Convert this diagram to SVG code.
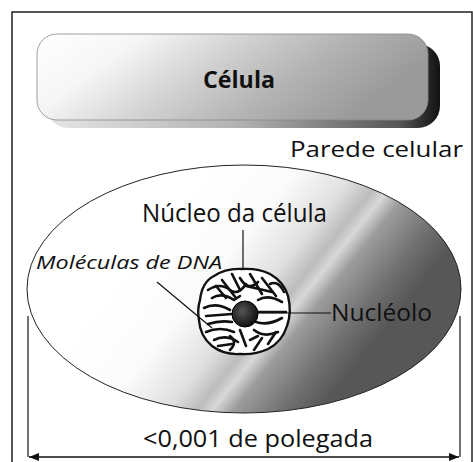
<svg xmlns="http://www.w3.org/2000/svg" width="473" height="462" viewBox="0 0 473 462">
  <defs>
    <linearGradient id="cellFill" gradientUnits="userSpaceOnUse" x1="180" y1="200" x2="368" y2="350">
      <stop offset="0" stop-color="#ffffff"/>
      <stop offset="0.3" stop-color="#fbfbfb"/>
      <stop offset="0.5" stop-color="#e0e0e0"/>
      <stop offset="0.6" stop-color="#bcbcbc"/>
      <stop offset="0.65" stop-color="#d8d8d8"/>
      <stop offset="0.72" stop-color="#9c9c9c"/>
      <stop offset="0.88" stop-color="#707070"/>
      <stop offset="1" stop-color="#575757"/>
    </linearGradient>
    <linearGradient id="titleFill" x1="0" y1="0" x2="1" y2="0.3">
      <stop offset="0" stop-color="#ffffff"/>
      <stop offset="0.25" stop-color="#f6f6f6"/>
      <stop offset="0.5" stop-color="#d2d2d2"/>
      <stop offset="0.75" stop-color="#b2b2b2"/>
      <stop offset="1" stop-color="#9a9a9a"/>
    </linearGradient>
    <linearGradient id="shadowFill" x1="0" y1="0" x2="1" y2="0">
      <stop offset="0" stop-color="#e6e6e6"/>
      <stop offset="0.5" stop-color="#b0b0b0"/>
      <stop offset="0.9" stop-color="#555"/>
      <stop offset="1" stop-color="#111"/>
    </linearGradient>
    <radialGradient id="nucleolusFill" cx="0.4" cy="0.4" r="0.6">
      <stop offset="0" stop-color="#555"/>
      <stop offset="1" stop-color="#111"/>
    </radialGradient>
    <marker id="arrow" viewBox="0 0 10 10" refX="10" refY="5" markerWidth="10" markerHeight="10" orient="auto-start-reverse" markerUnits="userSpaceOnUse">
      <path d="M0,1 L10,5 L0,9 Z" fill="#111"/>
    </marker>
    <style>
      .txt { font-family: "Open Sans", "Lato", "Liberation Sans", sans-serif; fill: #111; }
      .lead { stroke: #111; stroke-width: 1.2; fill: none; }
      .dna { stroke: #111; stroke-width: 2.6; fill: none; stroke-linecap: round; stroke-linejoin: round; }
    </style>
  </defs>

  <!-- page frame -->
  <rect x="0" y="0" width="473" height="462" fill="#fff"/>
  <path d="M12,462 V12 H472 V462" fill="none" stroke="#222" stroke-width="1.5"/>

  <!-- title banner -->
  <g id="title">
    <rect x="46" y="44" width="394" height="84" rx="22" fill="url(#shadowFill)"/>
    <rect x="37" y="34" width="391" height="86" rx="20" fill="url(#titleFill)" stroke="#888" stroke-width="0.8"/>
    <text class="txt" x="239" y="88" font-size="23" font-weight="bold" text-anchor="middle" textLength="72" lengthAdjust="spacingAndGlyphs">Célula</text>
  </g>

  <!-- cell wall label -->
  <g id="cell-wall-label">
    <text class="txt" x="290" y="157" font-size="22" textLength="173" lengthAdjust="spacingAndGlyphs">Parede celular</text>
  </g>

  <!-- cell body -->
  <g id="cell">
    <ellipse cx="244" cy="289" rx="217" ry="124" fill="url(#cellFill)" stroke="#222" stroke-width="1"/>
  </g>

  <!-- nucleus with DNA strands and nucleolus -->
  <g id="nucleus">
    <path d="M200,300 Q202,282 214,276 Q226,268 242,269 Q258,268 270,274 Q284,282 288,296 Q292,312 287,326 Q282,342 268,349 Q255,355 240,354 Q224,355 212,346 Q200,336 199,320 Q197,310 200,300 Z" fill="#fff" stroke="#111" stroke-width="2.4"/>
    <g class="dna">
      <path d="M208,290 Q220,282 230,290 Q238,296 246,284"/>
      <path d="M212,298 Q222,292 234,300 L240,296"/>
      <path d="M204,308 Q216,302 230,310"/>
      <path d="M206,316 L232,314"/>
      <path d="M208,324 Q220,320 232,322"/>
      <path d="M206,332 Q220,326 234,332"/>
      <path d="M214,340 Q226,334 238,342"/>
      <path d="M222,280 L236,298"/>
      <path d="M232,274 L240,290"/>
      <path d="M240,278 Q248,292 258,282"/>
      <path d="M250,274 L262,294"/>
      <path d="M262,278 L276,296"/>
      <path d="M246,286 L272,292"/>
      <path d="M258,300 Q268,294 282,302"/>
      <path d="M256,312 L286,312"/>
      <path d="M256,322 Q268,326 282,318"/>
      <path d="M254,330 Q264,338 278,332"/>
      <path d="M240,330 L246,346"/>
      <path d="M230,336 Q238,342 230,350"/>
      <path d="M262,338 L254,350"/>
      <path d="M270,284 Q278,280 284,292"/>
      <path d="M216,286 L226,298"/>
      <path d="M218,346 L232,344"/>
      <path d="M268,344 L276,332"/>
      <path d="M250,340 L258,336"/>
    </g>
    <circle cx="245" cy="314" r="13" fill="url(#nucleolusFill)" stroke="#000" stroke-width="1"/>
  </g>

  <!-- labels -->
  <g id="nucleus-label">
    <text class="txt" x="142" y="222" font-size="25" textLength="185" lengthAdjust="spacingAndGlyphs">Núcleo da célula</text>
  </g>
  <g id="dna-label">
    <text class="txt" x="36" y="269" font-size="19" font-style="italic" textLength="186" lengthAdjust="spacingAndGlyphs">Moléculas de DNA</text>
  </g>
  <g id="nucleolus-label">
    <text class="txt" x="331" y="321" font-size="23" textLength="101" lengthAdjust="spacingAndGlyphs">Nucléolo</text>
  </g>
  <g id="size-label">
    <text class="txt" x="143" y="447" font-size="24" textLength="230" lengthAdjust="spacingAndGlyphs">&lt;0,001 de polegada</text>
  </g>

  <!-- leader lines and dimension -->
  <g id="connectors">
    <line class="lead" x1="243" y1="230" x2="243" y2="270"/>
    <line class="lead" x1="157" y1="282" x2="212" y2="328"/>
    <line class="lead" x1="258" y1="313" x2="331" y2="313"/>
    <line class="lead" x1="28" y1="316" x2="28" y2="457"/>
    <line class="lead" x1="460" y1="316" x2="460" y2="457"/>
    <line x1="29" y1="457" x2="459" y2="457" stroke="#111" stroke-width="1.5" marker-start="url(#arrow)" marker-end="url(#arrow)"/>
  </g>
</svg>
